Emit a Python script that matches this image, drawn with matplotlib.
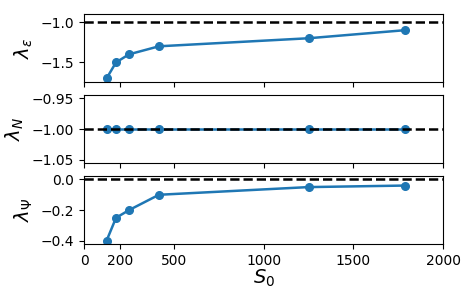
import matplotlib
matplotlib.use("Agg")
import matplotlib.pyplot as plt

# S0 values and exponents
s0 = [125, 178, 250, 417, 1250, 1786]
lam_eps = [-1.7, -1.5, -1.4, -1.3, -1.2, -1.1]
lam_n = [-1.0, -1.0, -1.0, -1.0, -1.0, -1.0]
lam_psi = [-0.4, -0.25, -0.2, -0.1, -0.05, -0.04]

ref_eps = -1.0
ref_n = -1.0
ref_psi = 0.0

xticks = [0, 200, 500, 1000, 1500, 2000]

fig, axs = plt.subplots(3, 1, figsize=(4.67, 2.88), dpi=100, sharex=True)
fig.subplots_adjust(left=0.18, right=0.949, top=0.951, bottom=0.153, hspace=0.2)

panels = [
    (lam_eps, ref_eps, r"$\lambda_\varepsilon$"),
    (lam_n, ref_n, r"$\lambda_N$"),
    (lam_psi, ref_psi, r"$\lambda_\Psi$"),
]

for ax, (vals, ref, label) in zip(axs, panels):
    ax.plot(s0, vals, "o-", color="#1f77b4", lw=1.8, ms=5.5)
    ax.axhline(ref, color="black", ls="--", lw=1.8)
    ax.set_ylabel(label, fontsize=14)

axs[0].set_ylim(-1.74, -0.90)
axs[0].set_yticks([-1.5, -1.0])
axs[1].set_yticks([-1.05, -1.00, -0.95])
axs[2].set_yticks([-0.4, -0.2, 0.0])

axs[2].set_xlim(0, 2000)
axs[2].set_xticks(xticks)
axs[2].set_xlabel(r"$S_0$", fontsize=14, labelpad=0)

fig.savefig("out.png", dpi=100)
